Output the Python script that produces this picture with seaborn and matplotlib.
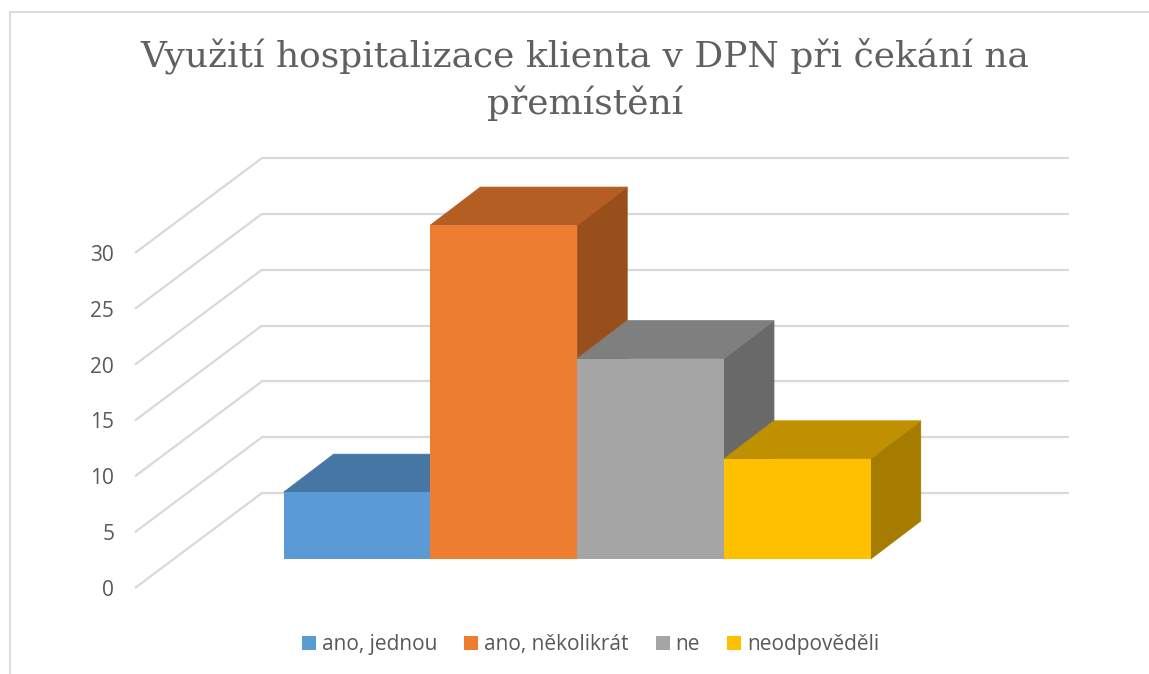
import matplotlib
matplotlib.use("Agg")
import matplotlib.pyplot as plt
from matplotlib.lines import Line2D
import pandas as pd
import seaborn as sns

# values
categories = ["ano, jednou", "ano, několikrát", "ne", "neodpověděli"]
values = [6, 30, 18, 9]
tick_values = [0, 5, 10, 15, 20, 25, 30]
title_text = "Využití hospitalizace klienta v DPN při čekání na\npřemístění"

front_colors = ["#5B9BD5", "#ED7D31", "#A5A5A5", "#FFC000"]
top_colors = ["#4676A3", "#B45E23", "#7F7F7F", "#C09000"]
side_colors = ["#3F6A93", "#984F1B", "#696969", "#A67C00"]

W, H = 1149, 674
text_gray = "#595959"
line_gray = "#D9D9D9"

sns.set_theme(style="white")
plt.rcParams["font.family"] = ["Open Sans", "DejaVu Sans"]

fig = plt.figure(figsize=(W / 100, H / 100), dpi=100)


def box(x0, y0, x1, y1):
    # pixel box measured from the top left corner -> figure fractions
    return [x0 / W, 1 - y1 / H, (x1 - x0) / W, (y1 - y0) / H]


df = pd.DataFrame({"kategorie": categories, "pocet": values})

# back wall with the gridlines, floor and wall edge running to the front
wall = fig.add_axes(box(262, 158, 1068, 493))
wall.set_xlim(0, 1)
wall.set_ylim(0, 30)
wall.set_xticks([])
wall.set_yticks(tick_values)
wall.tick_params(left=False, labelleft=False)
wall.grid(axis="y", color=line_gray, lw=1.6)
wall.set_axisbelow(True)
for line in wall.get_ygridlines():
    line.set_clip_on(False)
sns.despine(ax=wall, left=True, bottom=True)
for v in tick_values:
    wall.plot([0, -127 / 806], [v, v - 95 / 11.17], color=line_gray, lw=1.6,
              clip_on=False, solid_capstyle="butt")

# tick labels sit at the front edge of the side wall
front = fig.add_axes(box(135, 253, 136, 588))
front.patch.set_alpha(0)
front.set_xticks([])
front.set_ylim(0, 30)
front.set_yticks(tick_values)
front.tick_params(left=False, pad=9, labelsize=15, labelcolor=text_gray)
sns.despine(ax=front, left=True, bottom=True, right=True, top=True)

# bars: 0 on pixel row 559, 11.13 px per unit, 146.75 px per category
bars = fig.add_axes([0, 0, 1, 1])
bars.patch.set_alpha(0)
px_x = 146.75
px_y = 11.13
sns.barplot(data=df, x="kategorie", y="pocet", hue="kategorie", hue_order=categories,
            palette=front_colors, width=1, dodge=False, legend=True, ax=bars,
            saturation=1, edgecolor="none", zorder=5)
bars.set_xlim(-0.5 - 283.7 / px_x, -0.5 + (W - 283.7) / px_x)
bars.set_ylim(-(H - 559) / px_y, 559 / px_y)
bars.axis("off")

dx = 50 / px_x
dy = 38 / px_y
for i, v in enumerate(values):
    x0, x1 = i - 0.5, i + 0.5
    bars.fill([x1, x1 + dx, x1 + dx, x1], [0, dy, v + dy, v], color=side_colors[i], lw=0.6, zorder=2 + i * 0.1)
    bars.fill([x0, x0 + dx, x1 + dx, x1], [v, v + dy, v + dy, v], color=top_colors[i], lw=0.6, zorder=2 + i * 0.1)

bars.legend(loc="center", bbox_to_anchor=(590.5 / W, 1 - 644.5 / H), ncols=4, frameon=False,
            fontsize=15, labelcolor=text_gray, handlelength=0.67, handleheight=0.67,
            handletextpad=0.28, columnspacing=1.3, borderpad=0)

fig.text(585 / W, 1 - 79 / H, title_text, family="DejaVu Serif", fontsize=25.9, color="#606060",
         ha="center", va="center", linespacing=1.4)

# chart frame, open at the bottom of the crop
fig.add_artist(Line2D([10 / W, 10 / W, 1], [0, 1 - 12 / H, 1 - 12 / H], color=line_gray, lw=1.3))

fig.savefig("out.png", dpi=100)
